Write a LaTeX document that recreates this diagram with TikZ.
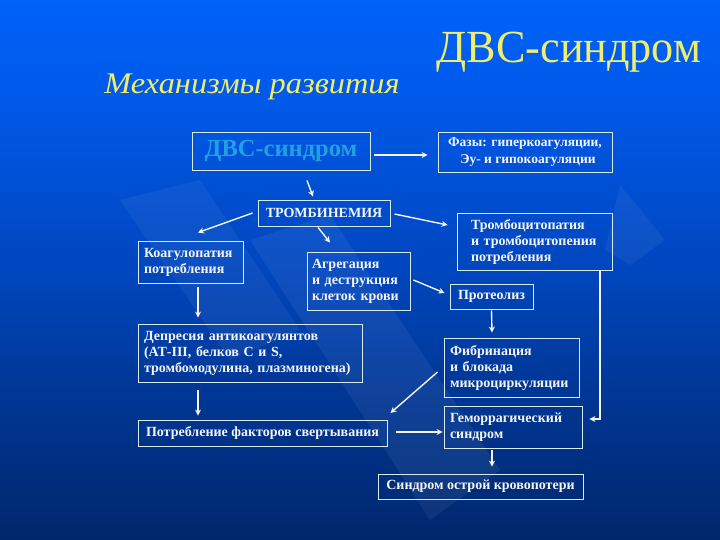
\documentclass[tikz,border=0pt]{standalone}
\usepackage{fontspec}
\setmainfont{Liberation Serif}
\usetikzlibrary{arrows.meta,calc}
\definecolor{s0}{RGB}{0,5,15}
\definecolor{s1}{RGB}{0,15,45}
\definecolor{s2}{RGB}{0,28,80}
\definecolor{s3}{RGB}{0,40,110}
\definecolor{s4}{RGB}{0,55,150}
\definecolor{s5}{RGB}{0,70,190}
\definecolor{s6}{RGB}{0,90,235}
\definecolor{s7}{RGB}{0,102,255}
\definecolor{ttl}{RGB}{240,238,110}
\definecolor{boxline}{RGB}{215,235,255}
\definecolor{txt}{RGB}{245,245,245}
\definecolor{dvscol}{RGB}{35,160,225}
\pgfdeclareverticalshading{bgshade}{100bp}{color(0bp)=(s0); color(7.4bp)=(s1); color(16.7bp)=(s2); color(25.9bp)=(s3); color(38.9bp)=(s4); color(50bp)=(s5); color(66.7bp)=(s6); color(79.6bp)=(s7); color(100bp)=(s7)}
\tikzset{
  boxnode/.style={draw=boxline, line width=0.9pt, inner sep=0pt, font=\bfseries\fontsize{14}{16}\selectfont, text=txt},
  arr/.style={draw=txt, line width=1.4pt, -{Stealth[length=6pt,width=6pt]}},
}
\begin{document}
\begin{tikzpicture}[x=1pt,y=-1pt]
\useasboundingbox (0,0) rectangle (720,540);
\shade[shading=bgshade] (0,0) rectangle (720,540);
% light diagonal bands
\fill[white,opacity=0.06] (250,240) -- (330,215) -- (500,470) -- (430,520) -- cycle;
\fill[white,opacity=0.05] (120,200) -- (200,180) -- (300,330) -- (230,360) -- cycle;
\fill[white,opacity=0.05] (620,185) -- (665,240) -- (630,265) -- (605,250) -- cycle;
% titles
\node[text=ttl, font=\fontsize{46}{50}\selectfont, xscale=0.96] (title) at (569,52) {ДВС-синдром};
\node[text=ttl, font=\itshape\fontsize{30}{32}\selectfont, xscale=1.08] (sub) at (252,87) {Механизмы развития};
% boxes
\node[boxnode, minimum width=178pt, minimum height=38pt, text=dvscol, font=\bfseries\fontsize{24.5}{26}\selectfont] (dvs) at (281,151) {ДВС-синдром};
\node[boxnode, minimum width=174pt, minimum height=40pt, align=center, font=\bfseries\fontsize{13.5}{17}\selectfont] (phase) at (525,152) {Фазы: гиперкоагуляции,\\ \hspace{6pt}Эу- и гипокоагуляции};
\node[boxnode, minimum width=132pt, minimum height=26pt] (trom) at (324,213) {ТРОМБИНЕМИЯ};
\node[boxnode, minimum width=105pt, minimum height=42pt, text width=93pt, align=left] (koag) at (190.5,262) {Коагулопатия\\потребления};
\node[boxnode, minimum width=103pt, minimum height=58pt, text width=93pt, align=left] (agr) at (358.5,281) {Агрегация\\и деструкция\\клеток крови};
\node[boxnode, minimum width=155pt, minimum height=57pt, text width=127pt, align=left] (tpat) at (534.5,241.5) {Тромбоцитопатия\\и тромбоцитопения\\потребления};
\node[boxnode, minimum width=83pt, minimum height=25pt] (prot) at (491.5,296.5) {Протеолиз};
\node[boxnode, minimum width=224pt, minimum height=58pt, text width=212pt, align=left] (dep) at (250,353) {Депресия антикоагулянтов\\(АТ-III, белков С и S,\\тромбомодулина, плазминогена)};
\node[boxnode, minimum width=249pt, minimum height=26pt] (potr) at (262.5,433) {Потребление факторов свертывания};
\node[boxnode, minimum width=135pt, minimum height=59pt, text width=123pt, align=left] (fibr) at (511.5,367.5) {Фибринация\\и блокада\\микроциркуляции};
\node[boxnode, minimum width=138pt, minimum height=42pt, text width=126pt, align=left] (gem) at (513,427) {Геморрагический\\синдром};
\node[boxnode, minimum width=205pt, minimum height=25pt] (sind) at (480.5,486.5) {Синдром острой кровопотери};
% arrows
\draw[arr] ([xshift=4pt,yshift=-4pt]dvs.east) -- ([xshift=-10pt,yshift=-3pt]phase.west);
\draw[arr] ([xshift=26pt,yshift=-10pt]dvs.south) -- ([xshift=-11pt,yshift=3pt]trom.north);
\draw[arr] ([xshift=-5pt]trom.west) -- ([xshift=7.5pt,yshift=8pt]koag.north);
\draw[arr] ([xshift=-6pt,yshift=-1pt]trom.south) -- ([xshift=-28.5pt,yshift=9pt]agr.north);
\draw[arr] ([xshift=4pt,yshift=-1pt]trom.east) -- ([xshift=-9pt,yshift=16.5pt]tpat.west);
\draw[arr] ([xshift=3pt,yshift=1pt]agr.east) -- ([xshift=-5pt,yshift=3.5pt]prot.west);
\draw[arr] ([xshift=7.5pt,yshift=-4pt]koag.south) -- ([xshift=-52pt,yshift=6pt]dep.north);
\draw[arr] ([xshift=-52pt,yshift=-8pt]dep.south) -- ([xshift=-64.5pt,yshift=4pt]potr.north);
\draw[arr] ([yshift=-1pt]prot.south) -- ([xshift=-19.5pt,yshift=5pt]fibr.north);
\draw[arr] ([xshift=-6pt,yshift=-4.5pt]fibr.west) -- ([xshift=3pt,yshift=20pt]potr.east);
\draw[arr] ([xshift=9pt,yshift=1pt]potr.east) -- ([xshift=-1pt,yshift=-5pt]gem.west);
\draw[arr] ([xshift=-21pt,yshift=-2pt]gem.south) -- ([xshift=11.5pt,yshift=7pt]sind.north);
\draw[arr] ([xshift=65.5pt]tpat.south) |- ([xshift=7pt,yshift=8pt]gem.east);
\end{tikzpicture}
\end{document}
